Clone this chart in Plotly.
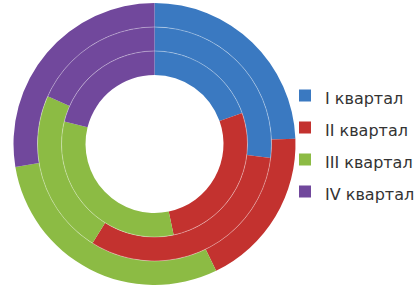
import plotly.graph_objects as go

labels = ["I квартал", "II квартал", "III квартал", "IV квартал"]
colors = ["#3A79C1", "#C3322F", "#8CBB44", "#71489C"]

# ring values (shares, %)
outer_vals = [24.4, 18.4, 29.6, 27.6]
middle_vals = [26.9, 32.0, 22.8, 18.3]
inner_vals = [19.6, 27.1, 32.2, 21.1]

W, H = 420, 290
cx, cy = 154.5, 144.0          # pixel centre (from top-left)
radii = [141, 117, 93, 69]     # outer edge, ring borders, hole


def dom(r):
    return dict(x=[max(0, (cx - r) / W), min(1, (cx + r) / W)],
                y=[max(0, (H - cy - r) / H), min(1, (H - cy + r) / H)])


legend_text = ['<span style="font-size:16px">%s</span>' % l for l in labels]

fig = go.Figure()
for vals, r_out, r_in in [(outer_vals, radii[0], radii[1]),
                          (middle_vals, radii[1], radii[2]),
                          (inner_vals, radii[2], radii[3])]:
    fig.add_trace(go.Pie(
        labels=legend_text, values=vals, customdata=labels,
        sort=False, direction="clockwise",
        rotation=0, hole=r_in / r_out, domain=dom(r_out),
        marker=dict(colors=colors, line=dict(width=0)),
        textinfo="none",
        hovertemplate="%{customdata}: %{value}<extra></extra>",
    ))

for r in radii[1:3]:
    fig.add_shape(type="circle", xref="paper", yref="paper",
                  x0=(cx - r) / W, x1=(cx + r) / W,
                  y0=(H - cy - r) / H, y1=(H - cy + r) / H,
                  line=dict(color="rgba(255,255,255,0.35)", width=1))

leg_cy = 145.5 - 2
fig.update_layout(
    width=W, height=H,
    margin=dict(l=0, r=0, t=0, b=0),
    paper_bgcolor="white", plot_bgcolor="white",
    showlegend=True,
    legend=dict(x=(325 - 40) / W, xanchor="left",
                y=(H - leg_cy) / H, yanchor="middle",
                font=dict(family="DejaVu Sans, Arial", size=22.3, color="#333333"),
                bgcolor="rgba(0,0,0,0)"),
)

fig.write_html("out.html",
               config={"displayModeBar": False},
               post_script="document.body.style.margin='0';"
                           "document.body.style.overflow='hidden';")
